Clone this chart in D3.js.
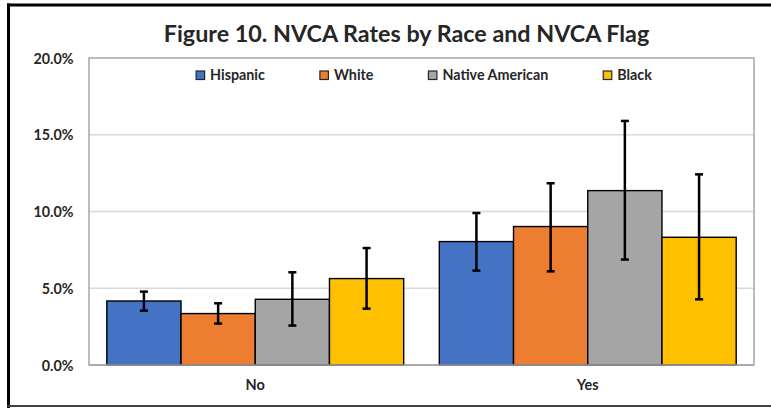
<!DOCTYPE html>
<html>
<head>
<meta charset="utf-8">
<script src="https://cdn.jsdelivr.net/npm/d3@7"></script>
<style>
  html, body { margin: 0; padding: 0; background: #fff; }
  svg { display: block; }
  text { font-family: Lato, "Open Sans", sans-serif; font-weight: bold; fill: #262626; }
</style>
</head>
<body>
<script>
// ---- data ----
const categories = ["No", "Yes"];
const seriesNames = ["Hispanic", "White", "Native American", "Black"];
const seriesColors = ["#4472C4", "#ED7D31", "#A5A5A5", "#FFC000"];
// rates (fraction) per series, in category order [No, Yes]
const hispanic = [0.0417, 0.0804];
const white = [0.0335, 0.0902];
const nativeAmerican = [0.0428, 0.1136];
const black = [0.0563, 0.0832];
// error bar lower / upper bounds
const hispanicLow = [0.0354, 0.0615], hispanicHigh = [0.0478, 0.0990];
const whiteLow = [0.0270, 0.0610], whiteHigh = [0.0402, 0.1184];
const nativeLow = [0.0257, 0.0687], nativeHigh = [0.0604, 0.1590];
const blackLow = [0.0367, 0.0428], blackHigh = [0.0762, 0.1242];
const yTicks = [0, 0.05, 0.10, 0.15, 0.20];
const title = "Figure 10. NVCA Rates by Race and NVCA Flag";

const values = [hispanic, white, nativeAmerican, black];
const lows = [hispanicLow, whiteLow, nativeLow, blackLow];
const highs = [hispanicHigh, whiteHigh, nativeHigh, blackHigh];

const rows = [];
categories.forEach((c, ci) => {
  seriesNames.forEach((s, si) => {
    rows.push({cat: c, series: s, color: seriesColors[si], v: values[si][ci], lo: lows[si][ci], hi: highs[si][ci]});
  });
});

// ---- layout ----
const W = 771, H = 408;
const plot = {left: 89, right: 754, top: 58, bottom: 365};

const svg = d3.select("body").append("svg").attr("width", W).attr("height", H);

const x0 = d3.scaleBand().domain(categories).range([plot.left, plot.right]).padding(0);
const x1 = d3.scaleBand().domain(seriesNames).range([0, x0.bandwidth()]).paddingInner(0).paddingOuter(0.24);
const y = d3.scaleLinear().domain([0, 0.2]).range([plot.bottom, plot.top]);

// gridlines
svg.append("g").selectAll("line").data(yTicks.filter(t => t > 0 && t < 0.2)).join("line")
  .attr("x1", plot.left).attr("x2", plot.right)
  .attr("y1", d => y(d)).attr("y2", d => y(d))
  .attr("stroke", "#d9d9d9").attr("stroke-width", 1.5);

// plot frame
svg.append("rect")
  .attr("x", plot.left).attr("y", plot.top)
  .attr("width", plot.right - plot.left).attr("height", plot.bottom - plot.top)
  .attr("fill", "none").attr("stroke", "#a6a6a6").attr("stroke-width", 1.5);

// y axis labels
const yAxis = d3.axisLeft(y).tickValues(yTicks).tickFormat(d3.format(".1%")).tickSize(0).tickPadding(15.5);
const yg = svg.append("g").attr("transform", `translate(${plot.left},0)`).call(yAxis);
yg.select(".domain").remove();
yg.selectAll("text").attr("font-size", 14.3).attr("dy", "0.36em")
  .style("font-family", "Lato, sans-serif").style("font-weight", "bold").attr("fill", "#262626");

// bars
const groups = svg.append("g").selectAll("g").data(categories).join("g")
  .attr("transform", d => `translate(${x0(d)},0)`);

groups.selectAll("rect").data(c => rows.filter(r => r.cat === c)).join("rect")
  .attr("x", d => x1(d.series))
  .attr("y", d => y(d.v))
  .attr("width", x1.bandwidth())
  .attr("height", d => y(0) - y(d.v))
  .attr("fill", d => d.color)
  .attr("stroke", "#000").attr("stroke-width", 1.4);

// bottom axis line (over bars)
svg.append("line").attr("x1", plot.left).attr("x2", plot.right)
  .attr("y1", plot.bottom).attr("y2", plot.bottom)
  .attr("stroke", "#a6a6a6").attr("stroke-width", 1.5);

// error bars
const capW = 8;
const eb = groups.selectAll("g.eb").data(c => rows.filter(r => r.cat === c)).join("g").attr("class", "eb");
eb.append("line")
  .attr("x1", d => x1(d.series) + x1.bandwidth() / 2).attr("x2", d => x1(d.series) + x1.bandwidth() / 2)
  .attr("y1", d => y(d.lo)).attr("y2", d => y(d.hi))
  .attr("stroke", "#000").attr("stroke-width", 2.5);
["lo", "hi"].forEach(k => {
  eb.append("line")
    .attr("x1", d => x1(d.series) + x1.bandwidth() / 2 - capW / 2)
    .attr("x2", d => x1(d.series) + x1.bandwidth() / 2 + capW / 2)
    .attr("y1", d => y(d[k])).attr("y2", d => y(d[k]))
    .attr("stroke", "#000").attr("stroke-width", 2.5);
});

// category labels
svg.append("g").selectAll("text").data(categories).join("text")
  .attr("x", d => x0(d) + x0.bandwidth() / 2)
  .attr("y", 390)
  .attr("text-anchor", "middle")
  .attr("font-size", 14.5)
  .text(d => d);

// title
svg.append("text").attr("x", (plot.left + plot.right) / 2 - 15).attr("y", 42)
  .attr("text-anchor", "middle").attr("font-size", 23.3)
  .attr("fill", "#000")
  .text(title);

// legend
const leg = svg.append("g");
let lx = 0;
seriesNames.forEach((s, i) => {
  const g = leg.append("g").attr("transform", `translate(${lx},0)`);
  g.append("rect").attr("x", 0).attr("y", -8.5).attr("width", 8.5).attr("height", 8.5)
    .attr("fill", seriesColors[i]).attr("stroke", "#262626").attr("stroke-width", 1.2);
  const t = g.append("text").attr("x", 14).attr("y", 0.5).attr("font-size", 14.3).text(s);
  const tw = t.node().getComputedTextLength();
  lx += 14 + tw + 55;
});
const legW = lx - 55;
leg.attr("transform", `translate(${(plot.left + plot.right) / 2 + 2.5 - legW / 2},79.5)`);

// outer border
svg.append("line").attr("x1", 7).attr("x2", W).attr("y1", 5).attr("y2", 5).attr("stroke", "#000").attr("stroke-width", 3);
svg.append("line").attr("x1", 8.5).attr("x2", 8.5).attr("y1", 3.5).attr("y2", H).attr("stroke", "#000").attr("stroke-width", 3);
svg.append("line").attr("x1", 7).attr("x2", W).attr("y1", 406).attr("y2", 406).attr("stroke", "#404040").attr("stroke-width", 2);
</script>
</body>
</html>
